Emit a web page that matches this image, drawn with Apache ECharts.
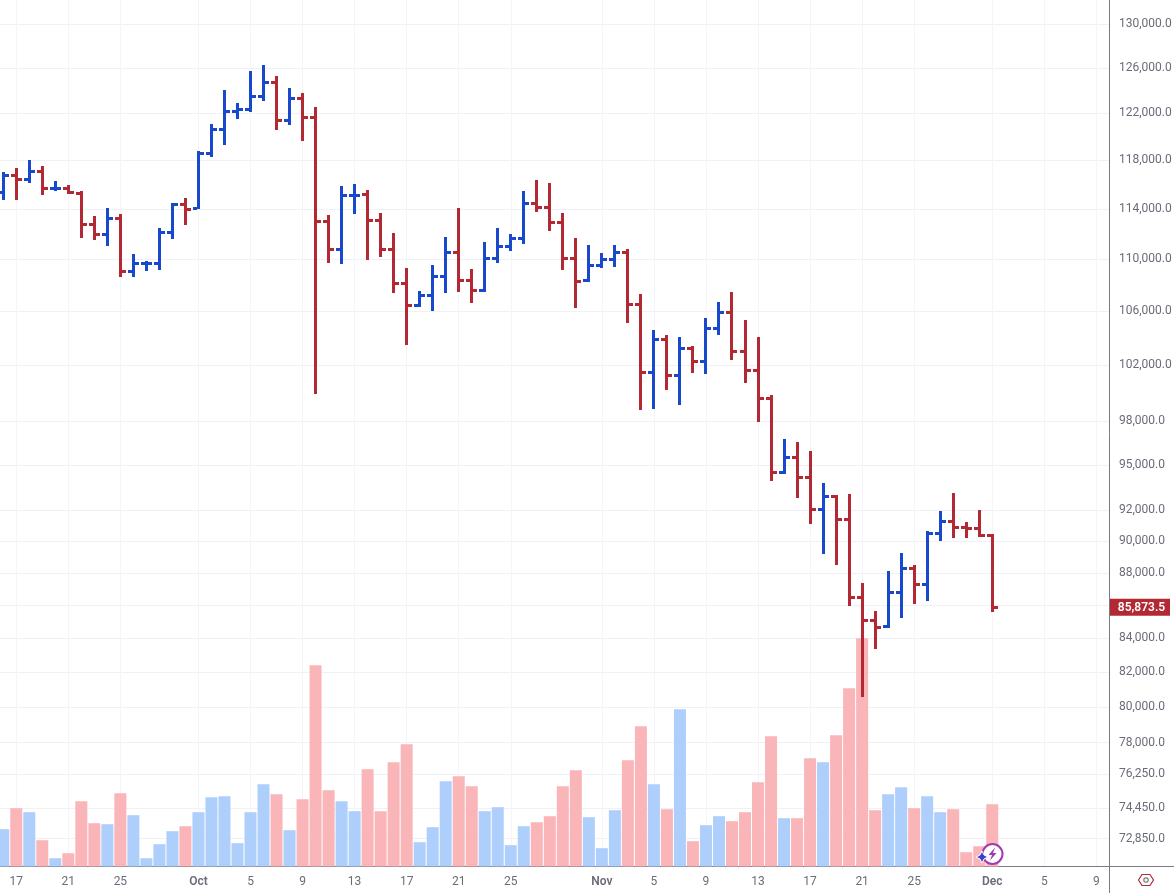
<!DOCTYPE html>
<html>
<head>
<meta charset="utf-8">
<title>Daily OHLC with volume</title>
<script src="https://cdn.jsdelivr.net/npm/echarts@6/dist/echarts.min.js"></script>
<style>
  html, body { margin: 0; padding: 0; background: #fff; }
  #chart { width: 1174px; height: 893px; }
</style>
</head>
<body>
<div id="chart"></div>
<script>
// Daily sessions, day 0 = 16 Sep, one entry per day through 1 Dec.
const opens = [115340,116740,116410,117070,115670,115670,115260,112745,111946,113227,109038,109659,109659,112103,114360,114034,118579,120622,122175,122349,123487,124721,121396,123311,121656,112984,110758,115093,115175,113065,110758,108111,106436,107195,108653,110521,108343,107576,110051,110995,111628,114441,114116,112903,110051,108343,109506,109973,110521,106511,101482,103893,101268,103231,102280,104709,105906,103010,101628,99625,94518,95533,94184,92065,92920,91412,86481,85077,84716,86788,88282,87284,90505,91282,90894,90829,90378];
const highs = [117020,117350,118020,117520,116270,115940,115445,113412,114059,113574,110389,109839,112448,114465,114872,118749,121078,124039,122899,125726,126265,125282,124217,123777,122550,113493,115857,116022,115527,113652,112047,109295,107522,109529,111731,114059,109217,111333,112448,111970,115445,116352,116105,113652,111652,111098,110466,111098,110782,107294,104582,104212,104064,103400,105478,106684,107446,105328,104064,99859,96783,96576,95960,93801,93006,93072,87364,85642,88112,89246,88490,90654,91953,93137,91236,92019,90462];
const lows = [114730,114730,116130,115140,115445,115200,111675,111492,111043,108622,108622,109084,109162,111596,112713,113953,118295,119309,121535,122140,123099,120588,121018,119647,99948,109706,109630,113595,109942,110177,107392,103495,106330,106027,107392,107469,106630,107469,109706,110648,111201,113758,112232,109162,106254,108235,109318,109396,105102,98799,98870,100213,99152,101434,101362,104212,102375,100714,97959,93935,94405,92807,91108,89185,88490,85948,80563,83360,84614,85217,86070,86253,90012,90205,90205,90269,85580];
const closes = [116740,116410,117070,115670,115670,115340,112745,111946,113227,109038,109659,109659,112103,114360,113953,118579,120622,122175,122349,123487,124721,121396,123311,121656,112984,110758,115093,115093,113065,110758,108111,106436,107195,108653,110521,108343,107576,110051,110995,111628,114441,114116,112903,110051,108266,109506,109973,110521,106511,101482,103893,101268,103231,102280,104709,105906,103010,101628,99625,94518,95533,94184,92065,92920,91412,86481,85077,84656,86788,88282,87284,90505,91282,90894,90829,90378,85873.5];
const volumes = [3730,5830,5430,2630,830,1330,6530,4330,4230,7330,5130,830,2230,3530,4030,5430,6930,7030,2330,5430,8230,7230,3630,6730,20130,7630,6530,5530,9730,5530,10430,12230,2430,3930,8530,9030,8030,5530,5930,2130,4030,4430,5030,8030,9630,4930,1830,5630,10630,14030,8230,5730,15730,2530,4130,5030,4530,5430,8430,13030,4830,4830,10830,10430,13130,17830,22830,5630,7230,7930,5830,7030,5430,5730,1430,2030,6230];

const priceGridLevels = [130000,126000,122000,118000,114000,110000,106000,102000,98000,95000,92000,90000,88000,86000,84000,82000,80000,78000,76250,74450,72850];
const priceLabelLevels = [130000,126000,122000,118000,114000,110000,106000,102000,98000,95000,92000,90000,88000,84000,82000,80000,78000,76250,74450,72850];
const dateTickDays = [1,5,9,15,19,23,27,31,35,39,46,50,54,58,62,66,70,76,80,84];
const dateTickLabels = ['17','21','25','Oct','5','9','13','17','21','25','Nov','5','9','13','17','21','25','Dec','5','9'];
const lastPrice = closes[closes.length - 1];

const UP = '#1848cc', DOWN = '#b22833';
const UP_VOL = '#aecefb', DOWN_VOL = '#fab5b8';
const AXIS = '#787b86', LABEL = '#6a6d78';
const FONT = 'Roboto, "Noto Sans", sans-serif';

const ohlcData = opens.map((o, i) => [i, o, highs[i], lows[i], closes[i]]);
const volumeData = volumes.map((v, i) => ({
  value: [i, v],
  itemStyle: { color: closes[i] >= opens[i] ? UP_VOL : DOWN_VOL }
}));

// Classic bar glyph: stem for the range, left tick for open, right tick for close.
function renderOhlc(params, api) {
  const day = api.value(0);
  const x = Math.floor(api.coord([day, api.value(1)])[0]) - 1;
  const yOf = (v) => Math.round(api.coord([day, v])[1]);
  const o = api.value(1), h = api.value(2), l = api.value(3), c = api.value(4);
  const fill = { fill: c >= o ? UP : DOWN };
  const rect = (rx, ry, width, height) => ({ type: 'rect', shape: { x: rx, y: ry, width, height }, style: fill });
  return {
    type: 'group',
    children: [
      rect(x, yOf(h), 3, yOf(l) - yOf(h)),
      rect(x - 4, yOf(o) - 1, 4, 3),
      rect(x + 3, yOf(c) - 1, 4, 3)
    ]
  };
}

// Last-price tag sitting on the price scale.
function renderPriceTag(params, api) {
  const v = api.value(1);
  const y = api.coord([api.value(0), v])[1];
  const left = params.coordSys.x + params.coordSys.width + 0.5;
  return {
    type: 'group',
    children: [
      { type: 'rect', shape: { x: left, y: y - 8.5, width: 60, height: 17 }, style: { fill: DOWN } },
      { type: 'text', style: {
          x: left + 31.5, y: y + 0.5, text: v.toLocaleString('en-US', { minimumFractionDigits: 1 }),
          fill: '#fff', font: '600 12px ' + FONT, textAlign: 'center', textVerticalAlign: 'middle' } }
    ]
  };
}

const chart = echarts.init(document.getElementById('chart'), null, { renderer: 'canvas' });
chart.setOption({
  animation: false,
  backgroundColor: '#fff',
  grid: { left: 0, top: 0, width: 1109.5, height: 866.5, containLabel: false, outerBoundsMode: 'none' },
  xAxis: {
    type: 'value', min: -0.25, max: 85.01,
    axisLine: { show: true, onZero: false, lineStyle: { color: AXIS, width: 1 } },
    axisTick: { show: false, customValues: dateTickDays },
    splitLine: { show: true, lineStyle: { color: '#f5f5f9', width: 1 } },
    axisLabel: {
      customValues: dateTickDays, margin: 9, color: LABEL, fontFamily: FONT, fontSize: 12,
      formatter: (v) => {
        const t = dateTickLabels[dateTickDays.indexOf(v)];
        return /[A-Z]/.test(t) ? '{m|' + t + '}' : t;
      },
      rich: { m: { fontWeight: 600, color: LABEL, fontFamily: FONT, fontSize: 12 } }
    }
  },
  yAxis: [
    {
      type: 'log', position: 'right', min: 71420, max: 132240,
      axisLine: { show: true, onZero: false, lineStyle: { color: AXIS, width: 1 } },
      axisTick: { show: false, customValues: priceGridLevels },
      splitLine: { show: true, lineStyle: { color: '#f0f1f5', width: 1 } },
      minorSplitLine: { show: false },
      axisLabel: {
        customValues: priceLabelLevels, margin: 9.5, color: LABEL, fontFamily: FONT, fontSize: 12,
        padding: [4, 0, 0, 0],
        formatter: (v) => Number(v).toLocaleString('en-US', { minimumFractionDigits: 1 })
      }
    },
    { type: 'value', min: 0, max: 86650, show: false, splitLine: { show: false } }
  ],
  series: [
    { name: 'Volume', type: 'bar', xAxisIndex: 0, yAxisIndex: 1, barWidth: 12, data: volumeData, z: 1 },
    { name: 'Price', type: 'custom', xAxisIndex: 0, yAxisIndex: 0, renderItem: renderOhlc,
      encode: { x: 0, y: [1, 2, 3, 4] }, data: ohlcData, z: 3 },
    { name: 'Last price', type: 'custom', xAxisIndex: 0, yAxisIndex: 0, renderItem: renderPriceTag,
      encode: { x: 0, y: 1 }, data: [[76, lastPrice]], z: 4 }
  ],
  graphic: [
    { type: 'line', silent: true, shape: { x1: 1109.5, y1: 866.5, x2: 1109.5, y2: 893 }, style: { stroke: AXIS, lineWidth: 1 } },
    { type: 'line', silent: true, shape: { x1: 1109.5, y1: 866.5, x2: 1174, y2: 866.5 }, style: { stroke: AXIS, lineWidth: 1 } },
    // scale settings button
    { type: 'polygon', silent: true, shape: { points: [[1138.5,880],[1142,874.5],[1150,874.5],[1153.5,880],[1150,885.5],[1142,885.5]] },
      style: { fill: 'none', stroke: DOWN, lineWidth: 1.2 } },
    { type: 'circle', silent: true, shape: { cx: 1146, cy: 880, r: 2.2 }, style: { fill: 'none', stroke: AXIS, lineWidth: 1.2 } },
    // indicator badge near the last bar
    { type: 'circle', silent: true, z: 10, shape: { cx: 992.5, cy: 854, r: 10 }, style: { fill: '#fff', stroke: '#a13ab5', lineWidth: 2 } },
    { type: 'polygon', silent: true, z: 11, shape: { points: [[995,847.5],[988.5,855],[992,855],[990,860.5],[996.5,853],[993,853]] },
      style: { fill: '#a13ab5' } },
    { type: 'polygon', silent: true, z: 12, shape: { points: [[982,851],[984,855],[988,857],[984,859],[982,863],[980,859],[976,857],[980,855]] },
      style: { fill: '#3a3fd0', stroke: '#fff', lineWidth: 1 } }
  ]
});
</script>
</body>
</html>
